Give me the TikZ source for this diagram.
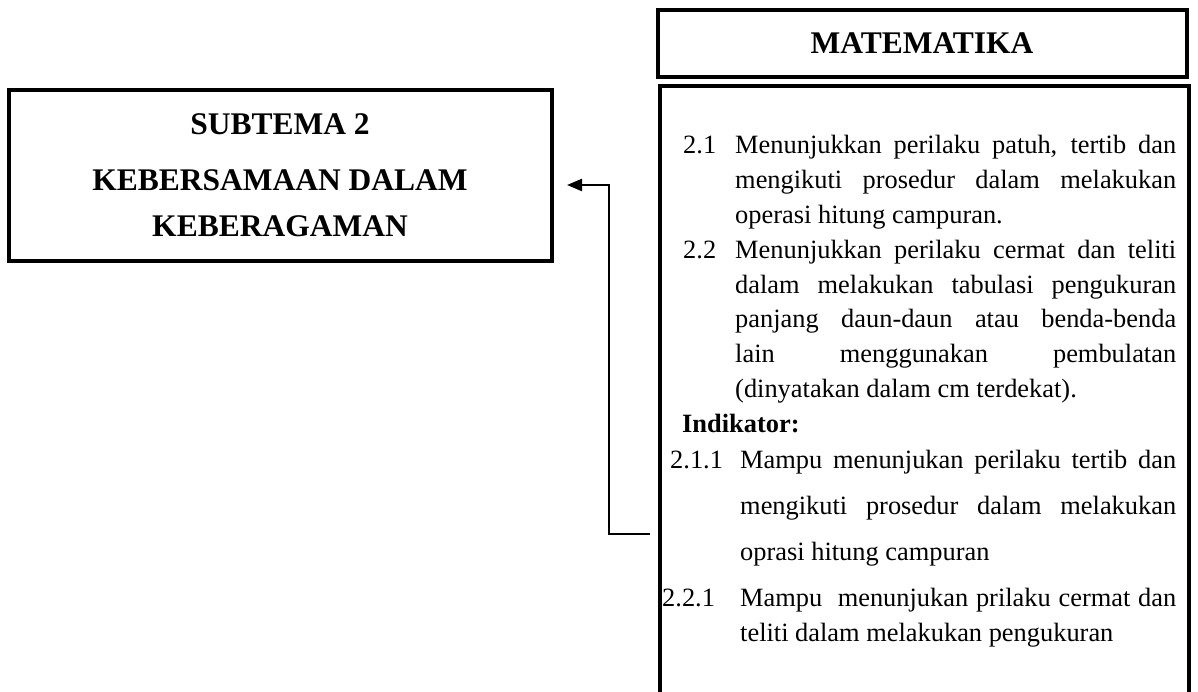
\documentclass[tikz,border=0pt]{standalone}
\usepackage{fontspec}
\setmainfont{Liberation Serif}
\usetikzlibrary{arrows.meta, positioning}
\newcommand{\bodysize}{\fontsize{26.4}{30}\selectfont}
\newcommand{\headsize}{\fontsize{31.5}{46}\selectfont\bfseries}
\newcommand{\jline}[2][441pt]{\makebox[#1][s]{#2}}
\tikzset{
  frame/.style={draw, line width=4pt, inner sep=0pt},
  conn/.style={line width=2.2pt, -{Triangle[length=15pt,width=12pt]}},
  txt/.style={anchor=base west, inner sep=0pt, font=\bodysize},
}
\begin{document}
\begin{tikzpicture}[x=1pt,y=-1pt]
  \useasboundingbox (0,0) rectangle (1198,691);
  % subtema
  \node[frame, minimum width=543pt, minimum height=171pt, align=center, font=\headsize]
    (subtema) at (280,175) {SUBTEMA 2\\[10pt]KEBERSAMAAN DALAM\\KEBERAGAMAN};
  % mata pelajaran
  \node[frame, minimum width=529pt, minimum height=67pt, font=\headsize]
    (mapel) at (922,43) {MATEMATIKA};
  \node[frame, minimum width=529pt, minimum height=700pt, anchor=north west]
    (kd) at (657.5,84) {};
  % kompetensi dasar dan indikator
  \foreach \n/\x/\y/\t in {
      n21/683/153/{2.1}, l1/735/153/{\jline{Menunjukkan perilaku patuh, tertib dan}},
      l2/735/188/{\jline{mengikuti prosedur dalam melakukan}},
      l3/735/223/{operasi hitung campuran.},
      n22/683/258/{2.2}, l4/735/258/{\jline{Menunjukkan perilaku cermat dan teliti}},
      l5/735/293/{\jline{dalam melakukan tabulasi pengukuran}},
      l6/735/327/{\jline{panjang daun-daun atau benda-benda}},
      l7/735/362/{\jline{lain menggunakan pembulatan}},
      l8/735/397/{(dinyatakan dalam cm terdekat).},
      ind/682/432/{\textbf{Indikator:}},
      n211/670/468/{2.1.1}, l9/740/468/{\jline[436pt]{Mampu menunjukan perilaku tertib dan}},
      l10/740/514/{\jline[436pt]{mengikuti prosedur dalam melakukan}},
      l11/740/560/{oprasi hitung campuran},
      n221/662/606/{2.2.1}, l12/740/606/{\jline[436pt]{Mampu\ \ menunjukan prilaku cermat dan}},
      l13/740/641/{teliti dalam melakukan pengukuran}}
    \node[txt] (\n) at (\x,\y) {\t};
  % penghubung
  \coordinate (tip) at (567,185);
  \coordinate (turn) at (609,185);
  \coordinate (foot) at (650,534);
  \draw[conn] (foot) -| (turn) -- (tip);
\end{tikzpicture}
\end{document}
